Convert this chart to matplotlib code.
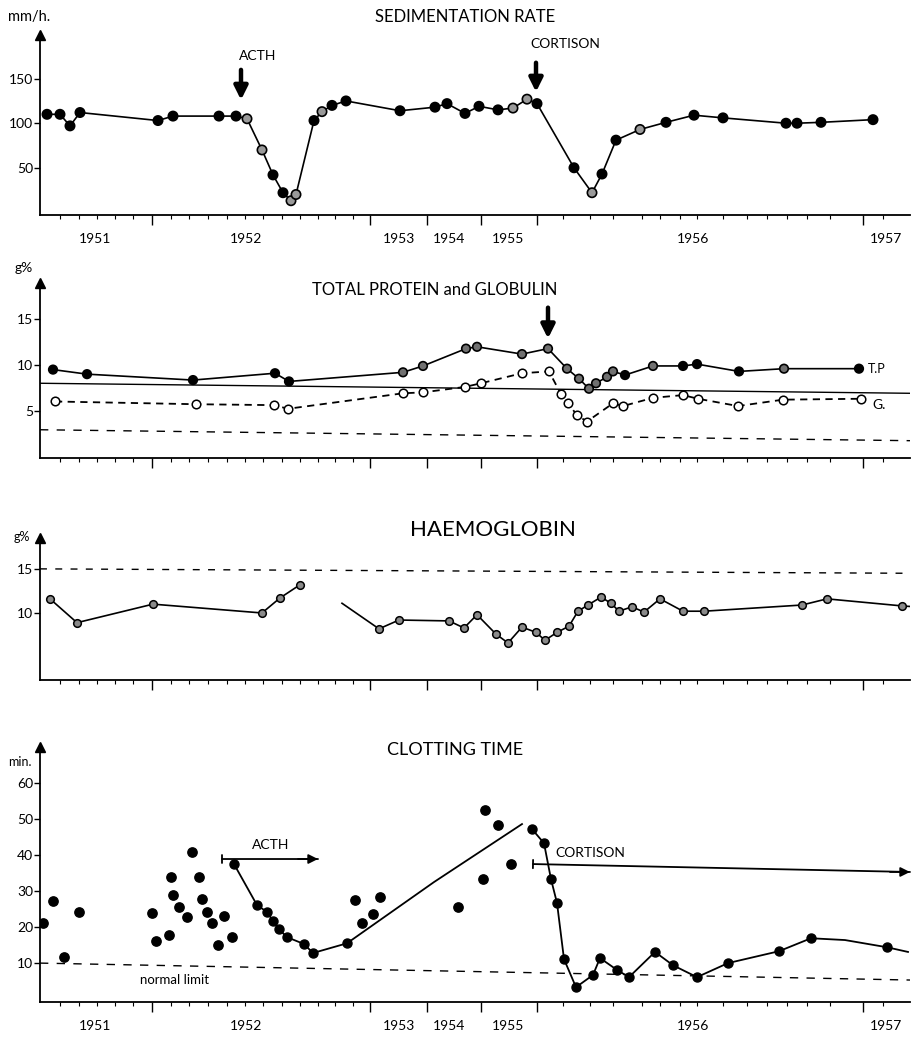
import matplotlib
matplotlib.use("Agg")
import matplotlib.pyplot as plt

plt.rcParams["font.family"] = ["Lato", "DejaVu Sans"]

W, H = 918, 1041
X0, X1 = 40, 910

# date axis (chart units along the original, non-linear time scale)
YEARS = ["1951", "1952", "1953", "1954", "1955", "1956", "1957"]
YEAR_POS = [95, 246, 399, 449, 508, 693, 886]
MAJOR_TICKS = [152, 370, 427, 481, 537, 863]
MINOR_TICKS = [60, 79, 97, 115, 133, 171, 189, 208, 227, 245, 263, 282, 300, 318,
               335, 353, 563, 590, 613, 642, 660, 680, 697, 723, 747, 767, 787,
               807, 830, 883]

# sedimentation rate, mm/h
sed_t = [47, 60, 70, 80, 158, 173, 219, 236, 247, 262, 273, 283, 291, 296, 314,
         322, 332, 346, 400, 435, 447, 465, 479, 498, 513, 527, 537, 574, 592,
         602, 616, 640, 666, 694, 723, 786, 797, 821, 873]
sed_v = [110, 110, 97, 112, 103, 108, 108, 108, 105, 70, 42, 22, 13, 20, 103,
         113, 120, 125, 114, 118, 122, 111, 119, 115, 117, 127, 122, 50, 22, 43,
         81, 93, 101, 109, 106, 100, 100, 101, 104]
sed_open = [8, 9, 12, 13, 15, 24, 25, 28, 31]

# total protein and globulin, g%
tp_t = [53, 87, 193, 275, 289, 403, 423, 466, 477, 522, 548, 567, 579, 589, 596,
        607, 613, 625, 653, 683, 697, 739, 784, 859]
tp_v = [9.5, 9.0, 8.35, 9.1, 8.2, 9.2, 9.9, 11.8, 12.0, 11.2, 11.8, 9.6, 8.5,
        7.4, 8.0, 8.7, 9.3, 8.9, 9.9, 9.9, 10.1, 9.3, 9.6, 9.6]
tp_open = [5, 6, 7, 8, 9, 10, 11, 12, 13, 14, 15, 16, 18, 22]
glob_t = [55, 196, 274, 288, 403, 423, 465, 481, 522, 549, 561, 568, 577, 587,
          613, 623, 653, 683, 698, 738, 783, 861]
glob_v = [6.0, 5.7, 5.6, 5.2, 6.9, 7.0, 7.6, 8.0, 9.1, 9.3, 6.8, 5.8, 4.5, 3.8,
          5.8, 5.5, 6.4, 6.7, 6.3, 5.5, 6.2, 6.3]
tp_ref_t, tp_ref_v = [X0, X1], [8.0, 6.9]
glob_ref_t, glob_ref_v = [X0, X1], [2.9, 1.7]

# haemoglobin, g%
hb1_t = [50, 77, 153, 262, 280, 300]
hb1_v = [11.6, 8.9, 11.0, 10.0, 11.7, 13.2]
hb2_t = [342, 379, 399, 449, 464, 477, 496, 508, 522, 536, 545, 557, 569, 578,
         588, 601, 611, 619, 632, 644, 660, 683, 704, 802, 827, 902, 915]
hb2_v = [11.1, 8.2, 9.2, 9.1, 8.3, 9.8, 7.6, 6.6, 8.4, 7.8, 6.9, 7.8, 8.5, 10.2,
         10.9, 11.8, 11.1, 10.2, 10.7, 10.1, 11.6, 10.2, 10.2, 10.9, 11.6, 10.8,
         10.7]
hb_ref_t, hb_ref_v = [X0, X1], [15.0, 14.5]

# clotting time, min.
clot_sc_t = [43, 53, 64, 79, 152, 156, 169, 171, 173, 179, 187, 192, 199, 202,
             207, 212, 218, 224, 232, 355, 362, 373, 380, 458, 483, 485, 498, 511]
clot_sc_v = [21.1, 27.2, 11.8, 24.2, 24.0, 16.1, 17.7, 33.9, 28.9, 25.6, 22.8,
             40.8, 33.9, 27.8, 24.2, 21.1, 15.0, 23.1, 17.2, 27.5, 21.1, 23.6,
             28.3, 25.6, 33.3, 52.5, 48.3, 37.5]
clot_acth_t = [234, 257, 267, 273, 279, 287, 304, 313, 347]
clot_acth_v = [37.5, 26.1, 24.2, 21.7, 19.4, 17.2, 15.3, 12.8, 15.5]
clot_trend_t = [347, 434, 522]
clot_trend_v = [15.5, 32.5, 48.6]
clot_cort_t = [532, 544, 551, 557, 564, 576, 593, 600, 617, 629, 655, 673, 697,
               728, 779, 811, 845, 887, 908]
clot_cort_v = [47.2, 43.3, 33.3, 26.7, 11.1, 3.3, 6.7, 11.4, 8.1, 6.1, 13.1, 9.4,
               6.1, 10.0, 13.3, 16.9, 16.4, 14.4, 13.1]
clot_ref_t, clot_ref_v = [X0, X1], [10.0, 5.3]

fig = plt.figure(figsize=(W / 100, H / 100), dpi=100)
fig.patch.set_facecolor("white")


def panel(top, bottom, ylo, yhi, yticks, labels=False):
    ax = fig.add_axes([X0 / W, 1 - bottom / H, (X1 - X0) / W, (bottom - top) / H])
    ax.set_xlim(X0, X1)
    ax.set_ylim(ylo, yhi)
    for s in ("top", "right"):
        ax.spines[s].set_visible(False)
    for s in ("left", "bottom"):
        ax.spines[s].set_linewidth(1.3)
    ax.set_yticks(yticks)
    ax.tick_params(axis="y", length=4, width=1, labelsize=10, pad=1)
    ax.set_xticks(MAJOR_TICKS)
    ax.set_xticks(MINOR_TICKS, minor=True)
    ax.set_xticklabels([])
    ax.tick_params(axis="x", which="major", length=7, width=1)
    ax.tick_params(axis="x", which="minor", length=3, width=0.8)
    ax.plot(0, 1, marker="^", color="k", ms=7, transform=ax.transAxes, clip_on=False)
    if labels:
        for yr, p in zip(YEARS, YEAR_POS):
            ax.annotate(yr, (p, 0), xycoords=("data", "axes fraction"),
                        xytext=(0, -13), textcoords="offset points",
                        ha="center", va="top", fontsize=10)
    return ax


def faces(n, open_idx, light="#9a9a9a"):
    return [light if i in open_idx else "k" for i in range(n)]


def down_arrow(ax, x, y_from, y_to):
    ax.annotate("", xy=(x, y_to), xytext=(x, y_from),
                arrowprops=dict(arrowstyle="-|>", color="k", lw=3.2, mutation_scale=20))


def span_arrow(ax, x_from, y_from, x_to, y_to):
    # bar at the start, filled head at the end
    ax.annotate("", xy=(x_to, y_to), xytext=(x_from, y_from), annotation_clip=False,
                arrowprops=dict(arrowstyle="|-|, widthA=0.3, widthB=0", color="k",
                                lw=1.3, shrinkA=0, shrinkB=0))
    ax.annotate("", xy=(x_to, y_to), xytext=(x_to - 20, y_to), annotation_clip=False,
                arrowprops=dict(arrowstyle="-|>", color="k", lw=1.3,
                                mutation_scale=14, shrinkA=0, shrinkB=0))


# --- sedimentation rate ---
ax1 = panel(35, 215, -3, 199, [50, 100, 150], labels=True)
ax1.plot(sed_t, sed_v, color="k", lw=1.2, zorder=2)
ax1.scatter(sed_t, sed_v, s=45, c=faces(len(sed_t), sed_open), edgecolors="k",
            linewidths=1.2, zorder=3)
down_arrow(ax1, 241, 163, 123)
ax1.text(258, 175, "ACTH", ha="center", va="center", fontsize=10)
down_arrow(ax1, 536, 171, 132)
ax1.text(565, 189, "CORTISON", ha="center", va="center", fontsize=10)
fig.text(465 / W, 1 - 17 / H, "SEDIMENTATION RATE", ha="center", va="center", fontsize=12)
fig.text(8 / W, 1 - 17 / H, "mm/h.", ha="left", va="center", fontsize=10.5)

# --- total protein and globulin ---
ax2 = panel(283, 458, -0.2, 19.0, [5, 10, 15])
ax2.plot(tp_ref_t, tp_ref_v, color="k", lw=1.0)
ax2.plot(glob_ref_t, glob_ref_v, color="k", lw=1.0, dashes=(6, 6))
ax2.plot(glob_t, glob_v, color="k", lw=1.3, dashes=(4, 3), zorder=2)
ax2.scatter(glob_t, glob_v, s=38, c="white", edgecolors="k", linewidths=1.1, zorder=3)
ax2.plot(tp_t, tp_v, color="k", lw=1.2, zorder=2)
ax2.scatter(tp_t, tp_v, s=38, c=faces(len(tp_t), tp_open, "#707070"), edgecolors="k",
            linewidths=1.2, zorder=3)
ax2.text(868, 9.6, "T.P", ha="left", va="center", fontsize=9)
ax2.text(872, 5.6, "G.", ha="left", va="center", fontsize=10)
down_arrow(ax2, 548, 16.6, 12.6)
fig.text(435 / W, 1 - 290 / H, "TOTAL PROTEIN and GLOBULIN", ha="center", va="center",
         fontsize=12)
fig.text(24 / W, 1 - 268 / H, "g%", ha="center", va="center", fontsize=10)

# --- haemoglobin ---
ax3 = panel(538, 680, 2.4, 18.5, [10, 15])
ax3.plot(hb_ref_t, hb_ref_v, color="k", lw=1.0, dashes=(5, 6))
ax3.plot(hb1_t, hb1_v, color="k", lw=1.2, marker="o", ms=5.5, mfc="#8a8a8a",
         mec="k", mew=1.1)
ax3.plot(hb2_t, hb2_v, color="k", lw=1.2, marker="o", ms=5.5, mfc="#8a8a8a",
         mec="k", mew=1.1, markevery=list(range(1, len(hb2_t) - 1)))
fig.text(493 / W, 1 - 530 / H, "HAEMOGLOBIN", ha="center", va="center", fontsize=16)
fig.text(22 / W, 1 - 537 / H, "g%", ha="center", va="center", fontsize=9)

# --- clotting time ---
ax4 = panel(747, 1002, -0.8, 70, [10, 20, 30, 40, 50, 60], labels=True)
ax4.plot(clot_ref_t, clot_ref_v, color="k", lw=1.0, dashes=(6, 6))
ax4.text(175, 5.2, "normal limit", ha="center", va="center", fontsize=9.5)
ax4.scatter(clot_sc_t, clot_sc_v, s=45, c="k", edgecolors="k", zorder=3)
ax4.plot(clot_acth_t, clot_acth_v, color="k", lw=1.3, marker="o", ms=6.5, mfc="k",
         mec="k", zorder=3)
ax4.plot(clot_trend_t, clot_trend_v, color="k", lw=1.3, zorder=2)
ax4.plot(clot_cort_t, clot_cort_v, color="k", lw=1.3, marker="o", ms=6.5, mfc="k",
         mec="k", markevery=[i for i in range(len(clot_cort_t)) if i not in (16, 18)],
         zorder=3)
span_arrow(ax4, 222, 38.9, 318, 38.9)
ax4.text(271, 42.8, "ACTH", ha="center", va="center", fontsize=10)
span_arrow(ax4, 533, 37.5, 910, 35.3)
ax4.text(590, 40.5, "CORTISON", ha="center", va="center", fontsize=10)
fig.text(455 / W, 1 - 750 / H, "CLOTTING TIME", ha="center", va="center", fontsize=13)
fig.text(20 / W, 1 - 762 / H, "min.", ha="center", va="center", fontsize=9)

fig.savefig("out.png", dpi=100, facecolor="white")
